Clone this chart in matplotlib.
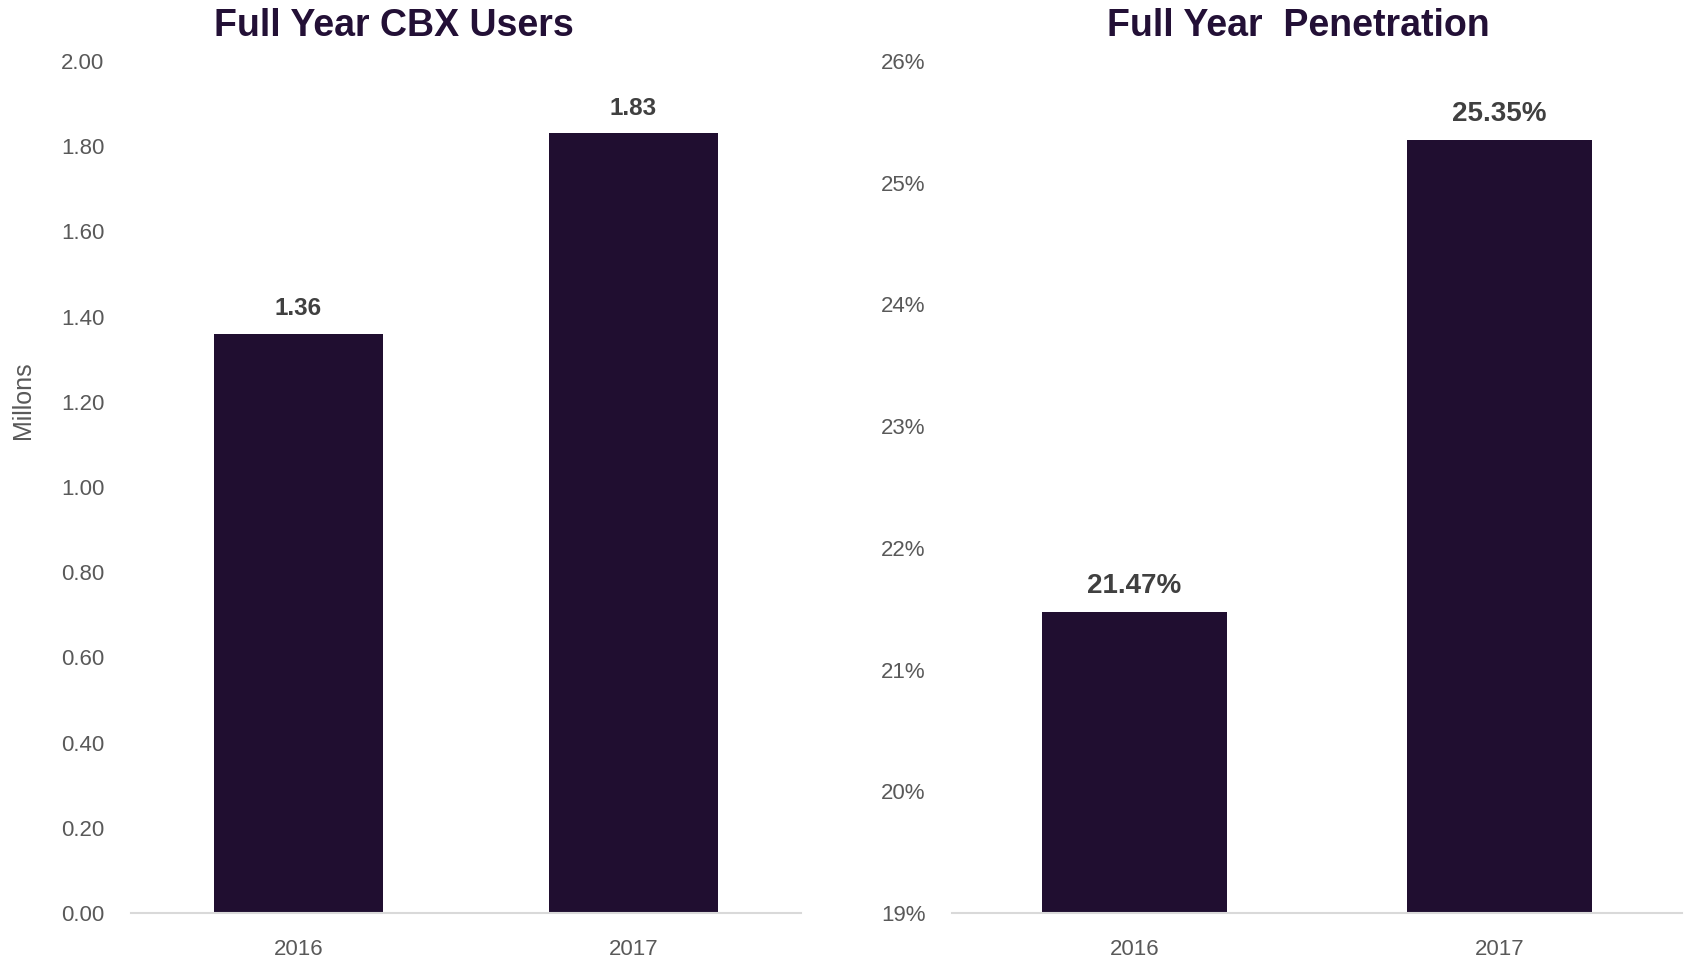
import matplotlib.pyplot as plt

years = ["2016", "2017"]
users = [1.36, 1.83]          # millions
penetration = [21.47, 25.35]  # percent

user_ticks = [0.0, 0.2, 0.4, 0.6, 0.8, 1.0, 1.2, 1.4, 1.6, 1.8, 2.0]
pen_ticks = [19, 20, 21, 22, 23, 24, 25, 26]

bar_color = "#200e30"
title_color = "#231036"
tick_color = "#595959"
label_color = "#404040"

plt.rcParams['font.family'] = ['Liberation Sans', 'DejaVu Sans']

fig = plt.figure(figsize=(16.85, 9.61), dpi=100)
ax1 = fig.add_axes([0.0777, 0.0500, 0.3976, 0.8866])
ax2 = fig.add_axes([0.5650, 0.0500, 0.4332, 0.8866])


def style_axis(ax, ticks):
    for s in ["top", "right", "left"]:
        ax.spines[s].set_visible(False)
    ax.spines["bottom"].set_color("#d9d9d9")
    ax.spines["bottom"].set_linewidth(1.5)
    ax.set_xlim(-0.5, 1.5)
    ax.set_yticks(ticks)
    ax.tick_params(axis="y", length=0, pad=19, labelsize=16, labelcolor=tick_color)
    ax.tick_params(axis="x", length=0, pad=19, labelsize=16, labelcolor=tick_color)


# left: users
x = range(len(years))
bars = ax1.bar(x, users, width=0.505, color=bar_color, zorder=2)
ax1.set_ylim(0, 2.0)
style_axis(ax1, user_ticks)
ax1.set_yticklabels([f"{t:.2f}" for t in user_ticks])
ax1.set_xticks(list(x))
ax1.set_xticklabels(years)
for b, v in zip(bars, users):
    ax1.annotate(f"{v:.2f}", (b.get_x() + b.get_width() / 2, v),
                 xytext=(0, 18), textcoords="offset points",
                 ha="center", va="center", fontsize=17.5, fontweight="bold",
                 color=label_color)

# right: penetration
bars = ax2.bar(x, penetration, width=0.505, color=bar_color, zorder=2)
ax2.set_ylim(19, 26)
style_axis(ax2, pen_ticks)
ax2.set_yticklabels([f"{t}%" for t in pen_ticks])
ax2.set_xticks(list(x))
ax2.set_xticklabels(years)
for b, v in zip(bars, penetration):
    ax2.annotate(f"{v:.2f}%", (b.get_x() + b.get_width() / 2, v),
                 xytext=(0, 19), textcoords="offset points",
                 ha="center", va="center", fontsize=20, fontweight="bold",
                 color=label_color)

fig.text(23 / 1685, 1 - 400 / 961, "Millons", rotation=90, ha="center", va="center",
         fontsize=18, color=tick_color)
fig.text(394 / 1685, 1 - 26 / 961, "Full Year CBX Users", ha="center", va="center",
         fontsize=27, fontweight="bold", color=title_color)
fig.text(1298 / 1685, 1 - 26 / 961, "Full Year  Penetration", ha="center", va="center",
         fontsize=27, fontweight="bold", color=title_color)

fig.savefig("out.png", dpi=100)
